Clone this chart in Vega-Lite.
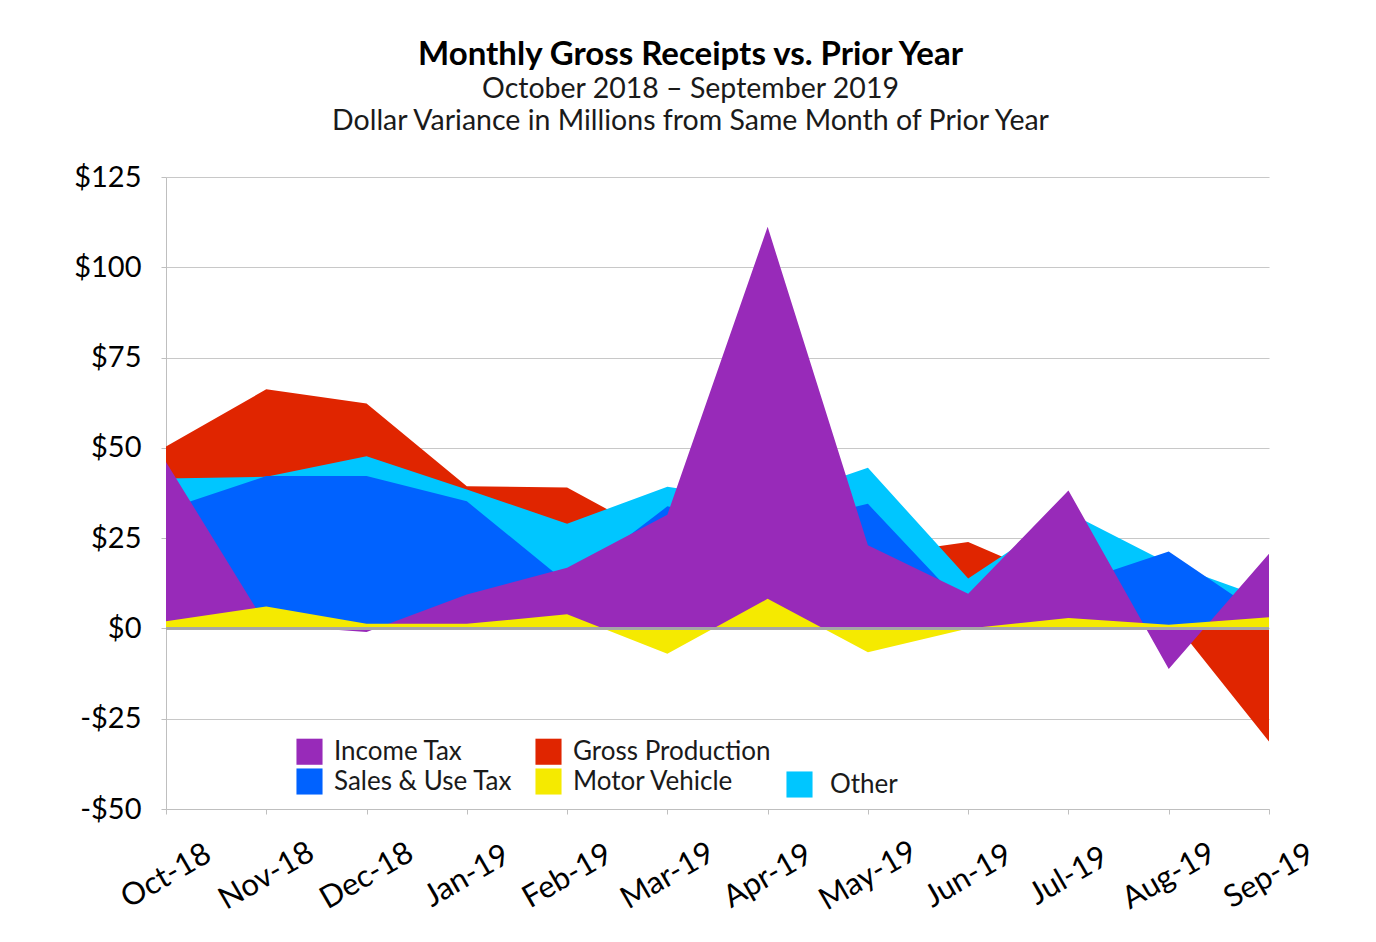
{
  "$schema": "https://vega.github.io/schema/vega-lite/v6.json",
  "width": 1103,
  "height": 632,
  "autosize": {"type": "none"},
  "padding": {"left": 166, "top": 177, "right": 107, "bottom": 133},
  "background": "white",
  "title": {
    "text": "Monthly Gross Receipts vs. Prior Year",
    "subtitle": ["October 2018 – September 2019", "Dollar Variance in Millions from Same Month of Prior Year"],
    "anchor": "middle",
    "dx": -27,
    "offset": 28,
    "font": "Lato",
    "fontSize": 33,
    "fontWeight": "bold",
    "color": "#000000",
    "subtitleFont": "Lato",
    "subtitleFontSize": 28.5,
    "subtitleColor": "#1a1a1a",
    "subtitlePadding": 3,
    "subtitleLineHeight": 32
  },
  "data": {
    "values": [
      {"month": "Oct-18", "series": "Income Tax", "value": 46.1},
      {"month": "Nov-18", "series": "Income Tax", "value": 1.0},
      {"month": "Dec-18", "series": "Income Tax", "value": -1.0},
      {"month": "Jan-19", "series": "Income Tax", "value": 9.4},
      {"month": "Feb-19", "series": "Income Tax", "value": 16.8},
      {"month": "Mar-19", "series": "Income Tax", "value": 31.5},
      {"month": "Apr-19", "series": "Income Tax", "value": 111.2},
      {"month": "May-19", "series": "Income Tax", "value": 23.0},
      {"month": "Jun-19", "series": "Income Tax", "value": 9.6},
      {"month": "Jul-19", "series": "Income Tax", "value": 38.2},
      {"month": "Aug-19", "series": "Income Tax", "value": -11.2},
      {"month": "Sep-19", "series": "Income Tax", "value": 20.7},
      {"month": "Oct-18", "series": "Gross Production", "value": 50.4},
      {"month": "Nov-18", "series": "Gross Production", "value": 66.2},
      {"month": "Dec-18", "series": "Gross Production", "value": 62.3},
      {"month": "Jan-19", "series": "Gross Production", "value": 39.4},
      {"month": "Feb-19", "series": "Gross Production", "value": 39.0},
      {"month": "Mar-19", "series": "Gross Production", "value": 24.0},
      {"month": "Apr-19", "series": "Gross Production", "value": 30.0},
      {"month": "May-19", "series": "Gross Production", "value": 20.0},
      {"month": "Jun-19", "series": "Gross Production", "value": 23.9},
      {"month": "Jul-19", "series": "Gross Production", "value": 12.0},
      {"month": "Aug-19", "series": "Gross Production", "value": 3.5},
      {"month": "Sep-19", "series": "Gross Production", "value": -31.3},
      {"month": "Oct-18", "series": "Sales & Use Tax", "value": 32.9},
      {"month": "Nov-18", "series": "Sales & Use Tax", "value": 42.2},
      {"month": "Dec-18", "series": "Sales & Use Tax", "value": 42.2},
      {"month": "Jan-19", "series": "Sales & Use Tax", "value": 35.2},
      {"month": "Feb-19", "series": "Sales & Use Tax", "value": 12.6},
      {"month": "Mar-19", "series": "Sales & Use Tax", "value": 33.8},
      {"month": "Apr-19", "series": "Sales & Use Tax", "value": 28.0},
      {"month": "May-19", "series": "Sales & Use Tax", "value": 34.5},
      {"month": "Jun-19", "series": "Sales & Use Tax", "value": 5.0},
      {"month": "Jul-19", "series": "Sales & Use Tax", "value": 12.0},
      {"month": "Aug-19", "series": "Sales & Use Tax", "value": 21.3},
      {"month": "Sep-19", "series": "Sales & Use Tax", "value": 2.5},
      {"month": "Oct-18", "series": "Motor Vehicle", "value": 2.0},
      {"month": "Nov-18", "series": "Motor Vehicle", "value": 6.1},
      {"month": "Dec-18", "series": "Motor Vehicle", "value": 1.3},
      {"month": "Jan-19", "series": "Motor Vehicle", "value": 1.3},
      {"month": "Feb-19", "series": "Motor Vehicle", "value": 3.9},
      {"month": "Mar-19", "series": "Motor Vehicle", "value": -7.0},
      {"month": "Apr-19", "series": "Motor Vehicle", "value": 8.2},
      {"month": "May-19", "series": "Motor Vehicle", "value": -6.6},
      {"month": "Jun-19", "series": "Motor Vehicle", "value": 0.0},
      {"month": "Jul-19", "series": "Motor Vehicle", "value": 2.9},
      {"month": "Aug-19", "series": "Motor Vehicle", "value": 1.0},
      {"month": "Sep-19", "series": "Motor Vehicle", "value": 3.1},
      {"month": "Oct-18", "series": "Other", "value": 41.5},
      {"month": "Nov-18", "series": "Other", "value": 42.0},
      {"month": "Dec-18", "series": "Other", "value": 47.7},
      {"month": "Jan-19", "series": "Other", "value": 38.5},
      {"month": "Feb-19", "series": "Other", "value": 29.0},
      {"month": "Mar-19", "series": "Other", "value": 39.2},
      {"month": "Apr-19", "series": "Other", "value": 35.0},
      {"month": "May-19", "series": "Other", "value": 44.5},
      {"month": "Jun-19", "series": "Other", "value": 13.8},
      {"month": "Jul-19", "series": "Other", "value": 32.2},
      {"month": "Aug-19", "series": "Other", "value": 18.0},
      {"month": "Sep-19", "series": "Other", "value": 8.0}
    ]
  },
  "encoding": {
    "x": {
      "field": "month",
      "type": "ordinal",
      "scale": {"type": "point", "padding": 0, "domain": ["Oct-18","Nov-18","Dec-18","Jan-19","Feb-19","Mar-19","Apr-19","May-19","Jun-19","Jul-19","Aug-19","Sep-19"]},
      "axis": {
        "title": null,
        "grid": false,
        "domainColor": "#bfbfbf",
        "tickColor": "#bfbfbf",
        "ticks": true,
        "tickSize": 5,
        "labelAngle": -30,
        "labelAlign": "center",
        "labelBaseline": "middle",
        "labelPadding": 62,
        "labelFont": "Lato",
        "labelFontSize": 31,
        "labelColor": "#000000"
      }
    },
    "y": {
      "field": "value",
      "type": "quantitative",
      "scale": {"domain": [-50, 125], "nice": false, "zero": false},
      "axis": {
        "title": null,
        "values": [-50, -25, 0, 25, 50, 75, 100, 125],
        "labelExpr": "datum.value < 0 ? '-$' + abs(datum.value) : '$' + datum.value",
        "grid": true,
        "gridColor": "#c8c8c8",
        "gridWidth": 1.2,
        "domainColor": "#bfbfbf",
        "tickColor": "#bfbfbf",
        "tickSize": 5,
        "labelPadding": 20,
        "labelFont": "Lato",
        "labelFontSize": 29,
        "labelColor": "#000000"
      }
    }
  },
  "layer": [
    {
      "transform": [{"filter": "datum.series === 'Gross Production'"}],
      "mark": {"type": "area", "opacity": 1},
      "encoding": {
        "color": {
          "field": "series",
          "type": "nominal",
          "scale": {"domain": ["Income Tax", "Sales & Use Tax", "Gross Production", "Motor Vehicle"], "range": ["#982AB9", "#0062FF", "#E02500", "#F5EA00"]},
          "legend": {
            "orient": "none",
            "legendX": 130,
            "legendY": 561,
            "columns": 2,
            "title": null,
            "symbolType": "square",
            "symbolSize": 680,
            "symbolStrokeWidth": 0,
            "symbolOpacity": 1,
            "labelFont": "Lato",
            "labelFontSize": 26,
            "labelLimit": 400,
            "labelColor": "#1a1a1a",
            "labelOffset": 11,
            "columnPadding": 22,
            "rowPadding": 3,
            "padding": 0
          }
        }
      }
    },
    {
      "transform": [{"filter": "datum.series === 'Other'"}],
      "mark": {"type": "area", "opacity": 1},
      "encoding": {
        "fill": {
          "field": "series",
          "type": "nominal",
          "scale": {"domain": ["Other"], "range": ["#00C6FF"]},
          "legend": {
            "orient": "none",
            "legendX": 620,
            "legendY": 594,
            "title": null,
            "symbolType": "square",
            "symbolSize": 680,
            "symbolStrokeWidth": 0,
            "symbolOpacity": 1,
            "labelFont": "Lato",
            "labelFontSize": 26,
            "labelColor": "#1a1a1a",
            "labelOffset": 17,
            "padding": 0
          }
        }
      }
    },
    {
      "transform": [{"filter": "datum.series === 'Sales & Use Tax'"}],
      "mark": {"type": "area", "opacity": 1},
      "encoding": {"color": {"field": "series", "type": "nominal"}}
    },
    {
      "transform": [{"filter": "datum.series === 'Income Tax'"}],
      "mark": {"type": "area", "opacity": 1},
      "encoding": {"color": {"field": "series", "type": "nominal"}}
    },
    {
      "transform": [{"filter": "datum.series === 'Motor Vehicle'"}],
      "mark": {"type": "area", "opacity": 1},
      "encoding": {"color": {"field": "series", "type": "nominal"}}
    },
    {
      "mark": {"type": "rule", "color": "#a6a6a6", "strokeWidth": 1.5},
      "encoding": {"y": {"datum": 0}, "x": null}
    }
  ],
  "config": {
    "view": {"stroke": null},
    "font": "Lato"
  }
}
